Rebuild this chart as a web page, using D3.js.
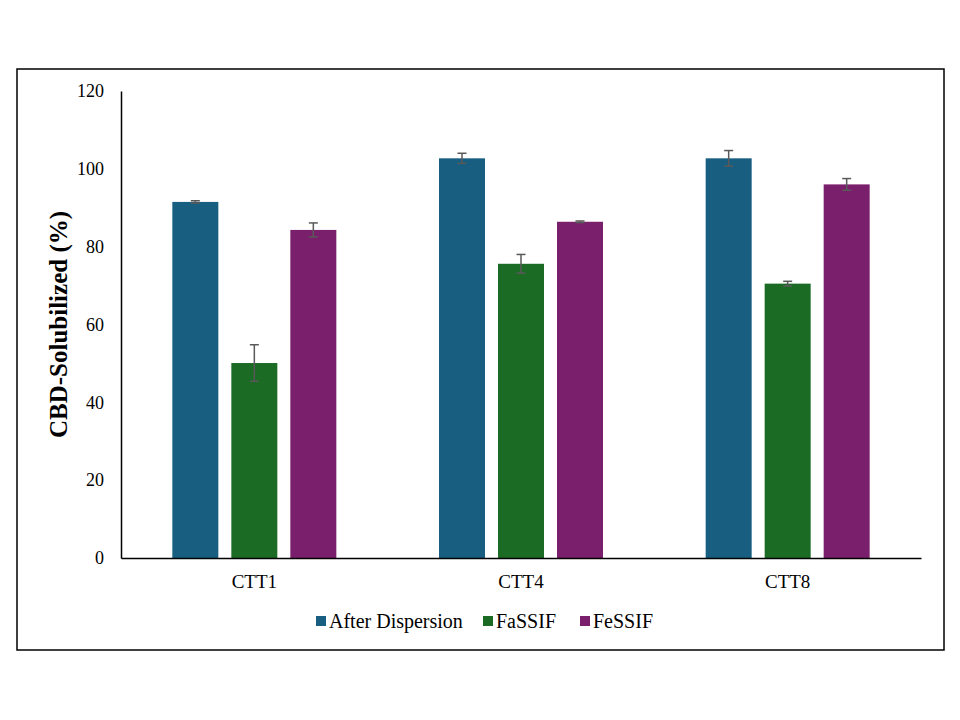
<!DOCTYPE html>
<html><head><meta charset="utf-8">
<script src="https://cdn.jsdelivr.net/npm/d3@7"></script>
<style>body{margin:0;background:#fff}svg{display:block}</style>
</head><body>
<script>
const categories = ["CTT1", "CTT4", "CTT8"];
const seriesNames = ["After Dispersion", "FaSSIF", "FeSSIF"];
const afterDispersion = [91.5, 102.7, 102.7];
const fassif = [50.1, 75.6, 70.5];
const fessif = [84.3, 86.4, 96.0];
const errAfter = [0.3, 1.3, 2.0];
const errFa = [4.7, 2.4, 0.6];
const errFe = [1.8, 0.2, 1.5];
const yTicks = [0, 20, 40, 60, 80, 100, 120];

(function () {
const colors = ["#175e80", "#1b6b25", "#7a1f6b"];
const values = [afterDispersion, fassif, fessif];
const errs = [errAfter, errFa, errFe];

const W = 960, H = 720;
const svg = d3.select("body").append("svg").attr("width", W).attr("height", H);
svg.append("rect").attr("x", 17).attr("y", 69).attr("width", 927).attr("height", 581)
  .attr("fill", "#fff").attr("stroke", "#000").attr("stroke-width", 1.5);

const mLeft = 121, mRight = 921, mTop = 91, mBottom = 558;
const x0 = d3.scaleBand().domain(categories).range([mLeft, mRight]).paddingInner(0).paddingOuter(0);
const x1 = d3.scaleBand().domain(seriesNames).range([0, 164]).paddingInner(13/59).paddingOuter(0);
const y = d3.scaleLinear().domain([0, 120]).range([mBottom, mTop]);

const font = "'Liberation Serif', 'Times New Roman', serif";

seriesNames.forEach((s, si) => {
  const g = svg.append("g");
  categories.forEach((c, ci) => {
    const gx = x0(c) + x0.bandwidth() / 2 - 82;
    const bx = gx + x1(s);
    g.append("rect").attr("x", bx).attr("y", y(values[si][ci]))
      .attr("width", x1.bandwidth()).attr("height", y(0) - y(values[si][ci]))
      .attr("fill", colors[si]);
    const cx = bx + x1.bandwidth() / 2;
    const hi = y(values[si][ci] + errs[si][ci]), lo = y(values[si][ci] - errs[si][ci]);
    g.append("line").attr("x1", cx).attr("x2", cx).attr("y1", hi).attr("y2", lo)
      .attr("stroke", "#595959").attr("stroke-width", 1.5);
    [hi, lo].forEach(yy => g.append("line").attr("x1", cx - 4.5).attr("x2", cx + 4.5)
      .attr("y1", yy).attr("y2", yy).attr("stroke", "#595959").attr("stroke-width", 1.5));
  });
});

const yAxis = d3.axisLeft(y).tickValues(yTicks).tickSize(0).tickPadding(17);
const ya = svg.append("g").attr("transform", `translate(${mLeft},0)`).call(yAxis);
ya.attr("font-family", font);
ya.select(".domain").attr("stroke", "#000").attr("stroke-width", 1.5);
ya.selectAll("text").attr("font-family", font).attr("font-size", 18).attr("fill", "#000");

const xAxis = d3.axisBottom(x0).tickSize(0).tickPadding(17);
const xa = svg.append("g").attr("transform", `translate(0,${mBottom})`).call(xAxis);
xa.attr("font-family", font);
xa.select(".domain").attr("stroke", "#000").attr("stroke-width", 1.5);
xa.selectAll("text").attr("font-family", font).attr("font-size", 19).attr("fill", "#000");

svg.append("text").attr("transform", `translate(67,${(mTop + mBottom) / 2}) rotate(-90)`)
  .attr("text-anchor", "middle").attr("font-family", font).attr("font-size", 25)
  .attr("font-weight", "bold").attr("fill", "#000").text("CBD-Solubilized (%)");

const legX = [316, 483, 580];
seriesNames.forEach((s, i) => {
  svg.append("rect").attr("x", legX[i]).attr("y", 616).attr("width", 10).attr("height", 10).attr("fill", colors[i]);
  svg.append("text").attr("x", legX[i] + 13).attr("y", 628).attr("font-family", font)
    .attr("font-size", 20).attr("fill", "#000").text(s);
});
})();
</script>
</body></html>
